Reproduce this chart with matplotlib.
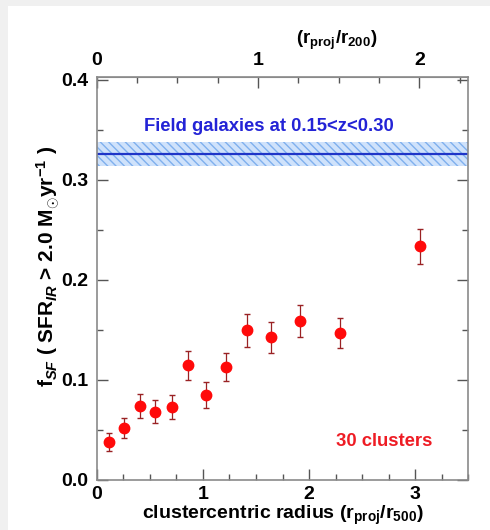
import matplotlib
matplotlib.use("Agg")
import matplotlib.pyplot as plt
from matplotlib.patches import Rectangle
from matplotlib.ticker import MultipleLocator, FixedLocator, FormatStrFormatter

# ---- data ----
r_r500 = [0.113, 0.26, 0.405, 0.547, 0.707, 0.863, 1.03, 1.219, 1.417, 1.643, 1.916, 2.287, 3.047]
f_sf = [0.0376, 0.0516, 0.0743, 0.0683, 0.0726, 0.1146, 0.085, 0.113, 0.150, 0.1426, 0.159, 0.1466, 0.2336]
f_err = [0.009, 0.010, 0.012, 0.0115, 0.012, 0.0147, 0.013, 0.0143, 0.0165, 0.0155, 0.016, 0.015, 0.0177]
field_value = 0.326
field_err = 0.012
r200_over_r500 = 1.52
top_major = [0, 1, 2]
top_minor = [0.25, 0.5, 0.75, 1.25, 1.5, 1.75, 2.25]

plt.rcParams['font.family'] = ['Liberation Sans', 'DejaVu Sans']
plt.rcParams['font.weight'] = 'bold'
plt.rcParams['mathtext.fontset'] = 'custom'
plt.rcParams['mathtext.rm'] = 'Liberation Sans:bold'
plt.rcParams['mathtext.bf'] = 'Liberation Sans:bold'
plt.rcParams['mathtext.it'] = 'Liberation Sans:italic:bold'
plt.rcParams['mathtext.sf'] = 'Liberation Sans:bold'

W, H = 490, 530
fig = plt.figure(figsize=(W / 100, H / 100), dpi=100, facecolor='#f0f0f0')
# white page area (grey margin on left and top)
fig.patches.append(Rectangle((8 / W, 0), 1 - 8 / W, 1 - 6 / H, transform=fig.transFigure,
                             facecolor='white', edgecolor='none', zorder=-10))
fig.add_artist(Rectangle((472 / W, 0), 1 - 472 / W, 1 - 6 / H, transform=fig.transFigure,
                         facecolor='white', edgecolor='none', zorder=50))

left, right, bottom, top = 96.7, 468.3, 480, 77
ax = fig.add_axes([left / W, 1 - bottom / H, (right - left) / W, (bottom - top) / H])
ax.set_xlim(0, 3.5)
ax.set_ylim(0, 0.403)

spine_col = '#8a8a8a'
for s in ax.spines.values():
    s.set_color(spine_col)
    s.set_linewidth(1.2)

# field band
ax.axhspan(field_value - field_err, field_value + field_err, facecolor='#cfe2fb',
           edgecolor='#7fb0ee', hatch='\\\\\\\\', linewidth=0, zorder=1)
ax.axhline(field_value, color='#1f35c8', lw=1.6, zorder=2)

# data
ax.errorbar(r_r500, f_sf, yerr=f_err, fmt='o', color='#ff0a0a', ms=7.5,
            ecolor='#9a2224', elinewidth=0.9, capsize=2.5, capthick=1.0, zorder=3)

ax.text(0.462, 0.3536, 'Field galaxies at 0.15<z<0.30', transform=ax.get_yaxis_transform(),
        ha='center', va='center', color='#2323d6', fontsize=13.3, fontweight='bold')
ax.text(0.903, 0.0386, '30 clusters', transform=ax.get_yaxis_transform(),
        ha='right', va='center', color='#ee1c24', fontsize=13.3, fontweight='bold')

# ticks
ax.xaxis.set_major_locator(MultipleLocator(1))
ax.xaxis.set_minor_locator(MultipleLocator(0.25))
ax.yaxis.set_major_locator(MultipleLocator(0.1))
ax.yaxis.set_minor_locator(MultipleLocator(0.05))
ax.yaxis.set_major_formatter(FormatStrFormatter('%.1f'))
ax.tick_params(which='both', direction='in', color='#555555', width=1.0,
               left=True, right=True, bottom=True, top=False, labelsize=14)
ax.tick_params(which='major', length=8)
ax.tick_params(axis='y', which='major', pad=6)
ax.tick_params(axis='x', which='major', pad=4)
ax.tick_params(which='minor', length=4.5)

sec = ax.secondary_xaxis('top', functions=(lambda x: x / r200_over_r500, lambda x: x * r200_over_r500))
sec.xaxis.set_major_locator(FixedLocator(top_major))
sec.xaxis.set_minor_locator(FixedLocator(top_minor))
sec.tick_params(which='both', direction='in', color='#555555', width=1.0, labelsize=14)
sec.tick_params(which='major', length=8, pad=6)
sec.tick_params(which='minor', length=4.5)
sec.spines['top'].set_color(spine_col)
ax.text(0.647, 1.09, r'(r$_{\mathrm{proj}}$/r$_{200}$)', transform=ax.transAxes,
        ha='center', va='center', fontsize=13.5, fontweight='bold')

ax.set_xlabel(r'clustercentric radius (r$_{\mathrm{proj}}$/r$_{500}$)', fontsize=14,
              fontweight='bold', va='center')
ax.xaxis.set_label_coords(0.5, -0.089)
ax.set_ylabel(r'f$_{\mathit{SF}}$ ( SFR$_{\mathit{IR}}$ > 2.0 M$_{\odot}$yr$^{-1}$ )', fontsize=15,
              fontweight='bold', va='center')
ax.yaxis.set_label_coords(-0.131, 0.531)

fig.savefig('out.png', dpi=100, facecolor=fig.get_facecolor())
